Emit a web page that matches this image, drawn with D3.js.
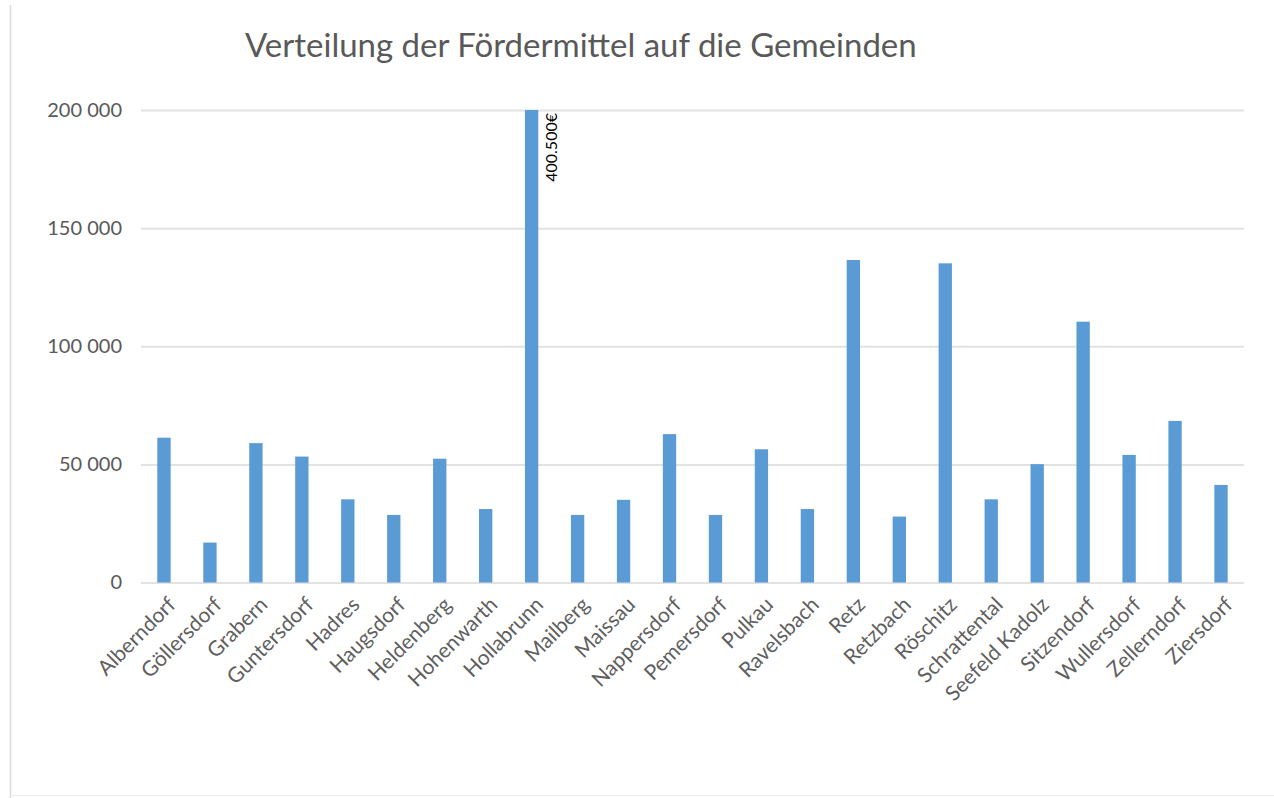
<!DOCTYPE html>
<html>
<head>
<meta charset="utf-8">
<script src="https://cdn.jsdelivr.net/npm/d3@7"></script>
<style>
  body { margin: 0; background: #fff; }
  svg { display: block; font-family: Lato, "Open Sans", sans-serif; }
</style>
</head>
<body>
<svg id="chart" width="1274" height="798"></svg>
<script>
// Gemeinden and their Fördermittel (EUR)
const gemeinden = ["Alberndorf", "Göllersdorf", "Grabern", "Guntersdorf", "Hadres", "Haugsdorf",
  "Heldenberg", "Hohenwarth", "Hollabrunn", "Mailberg", "Maissau", "Nappersdorf", "Pemersdorf",
  "Pulkau", "Ravelsbach", "Retz", "Retzbach", "Röschitz", "Schrattental", "Seefeld Kadolz",
  "Sitzendorf", "Wullersdorf", "Zellerndorf", "Ziersdorf"];

const foerdermittel = [61300, 16900, 59000, 53300, 35200, 28600, 52400, 31100, 400500, 28600,
  35000, 62800, 28600, 56400, 31100, 136500, 27900, 135100, 35200, 50100, 110400, 54000,
  68400, 41300];

const yTicks = [0, 50000, 100000, 150000, 200000];
const yMax = 200000;          // axis is cut at 200 000, Hollabrunn runs off the top
const labelled = ["Hollabrunn"];

const title = "Verteilung der Fördermittel auf die Gemeinden";

const data = gemeinden.map((g, i) => ({ name: g, value: foerdermittel[i] }));

const svg = d3.select("#chart");

const margin = { left: 141, right: 1244, top: 110, bottom: 582.5 };

const x = d3.scaleBand()
  .domain(gemeinden)
  .range([margin.left, margin.right])
  .paddingInner(0.71)
  .paddingOuter(0.355);

const y = d3.scaleLinear()
  .domain([0, yMax])
  .range([margin.bottom, margin.top])
  .clamp(true);

const axisFmt = d3.formatLocale({ decimal: ",", thousands: " ", grouping: [3], currency: ["", "€"] }).format(",.0f");
const labelFmt = d3.formatLocale({ decimal: ",", thousands: ".", grouping: [3], currency: ["", "€"] }).format("$,.0f");

// frame lines of the pasted chart
svg.append("line")
  .attr("x1", 10.5).attr("x2", 10.5).attr("y1", 5).attr("y2", 798)
  .style("stroke", "#d9d9d9").style("stroke-width", 1.5);
svg.append("line")
  .attr("x1", 10).attr("x2", 1274).attr("y1", 795.5).attr("y2", 795.5)
  .style("stroke", "#eeeeee").style("stroke-width", 1);

// title
svg.append("text")
  .attr("x", 245)
  .attr("y", 57)
  .style("font-size", "33px")
  .style("fill", "#595959")
  .text(title);

// y axis with gridlines
const yAxis = svg.append("g")
  .attr("transform", `translate(${margin.left},0)`)
  .call(d3.axisLeft(y).tickValues(yTicks).tickFormat(axisFmt)
    .tickSize(-(margin.right - margin.left)).tickPadding(19));

yAxis.select(".domain").remove();
yAxis.selectAll(".tick line")
  .style("stroke", "#e2e2e2")
  .style("stroke-width", 2);
yAxis.selectAll(".tick text")
  .style("font-size", "20px")
  .style("fill", "#595959")
  .style("font-family", "Lato, sans-serif");

// bars
svg.append("g")
  .selectAll("rect")
  .data(data)
  .enter().append("rect")
  .attr("x", d => x(d.name))
  .attr("width", x.bandwidth())
  .attr("y", d => y(d.value))
  .attr("height", d => y(0) - y(d.value))
  .style("fill", "#5b9bd5");

// value label for the bar that runs past the axis
svg.append("g")
  .selectAll("text")
  .data(data.filter(d => labelled.includes(d.name)))
  .enter().append("text")
  .attr("transform", d => `translate(${x(d.name) + x.bandwidth() + 19},${y(d.value) + 3}) rotate(-90)`)
  .style("text-anchor", "end")
  .style("font-size", "16px")
  .style("fill", "#000")
  .text(d => labelFmt(d.value));

// category labels, rotated
svg.append("g")
  .selectAll("text")
  .data(gemeinden)
  .enter().append("text")
  .attr("transform", d => `translate(${x(d) + x.bandwidth() / 2 + 13},${606}) rotate(-45)`)
  .style("text-anchor", "end")
  .style("font-size", "21px")
  .style("fill", "#5f5f5f")
  .text(d => d);
</script>
</body>
</html>
